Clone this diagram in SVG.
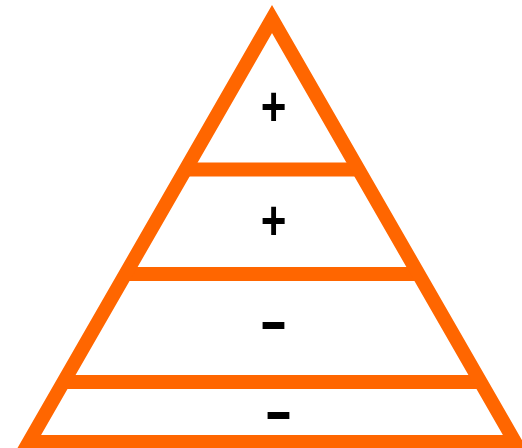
<svg xmlns="http://www.w3.org/2000/svg" width="522" height="448" viewBox="0 0 522 448">
<style>
.o{fill:none;stroke:#FF6600;stroke-width:14;stroke-linejoin:miter;stroke-miterlimit:10}
.b{stroke:#FF6600;stroke-width:14}
.t{font-family:"Liberation Sans",Arial,sans-serif;font-weight:bold;font-size:44px;fill:#000;text-anchor:middle}
</style>
<rect width="522" height="448" fill="#fff"/>
<g id="connectors">
<line class="b" x1="185" y1="169.5" x2="359" y2="169.5"/>
<line class="b" x1="125" y1="274" x2="419" y2="274"/>
<line class="b" x1="63" y1="382" x2="481" y2="382"/>
</g>
<g id="pyramid">
<polygon class="o" points="272,19 515,442 29,442"/>
</g>
<g id="level1"><text class="t" transform="translate(273.5,125) scale(1,1.25)">+</text></g>
<g id="level2"><text class="t" transform="translate(273.5,238.5) scale(1,1.25)">+</text></g>
<g id="level3"><text class="t" transform="translate(273.5,343.5) scale(1,1.6)">–</text></g>
<g id="level4"><text class="t" transform="translate(278.5,434) scale(1,1.6)">–</text></g>
</svg>
